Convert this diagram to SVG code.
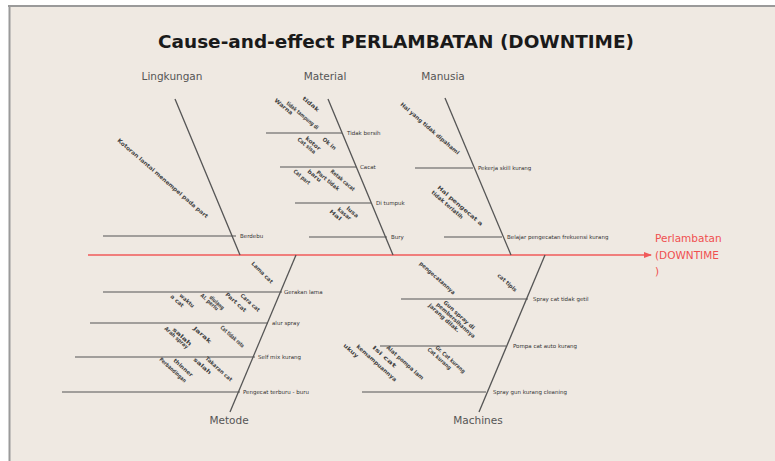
<svg xmlns="http://www.w3.org/2000/svg" width="775" height="461" viewBox="0 0 775 461">
<defs>
<style>
.bg{fill:#EFE9E2}
.bone{stroke:#555;stroke-width:1.3;fill:none}
.sub{stroke:#555;stroke-width:1.2;fill:none}
.spine{stroke:#F05A5A;stroke-width:1.6;fill:none}
.title{font-family:"DejaVu Sans",sans-serif;font-weight:bold;font-size:17px;fill:#1a1a1a}
.cat{font-family:"DejaVu Sans",sans-serif;font-size:10.5px;fill:#555}
.lbl{font-family:"DejaVu Sans",sans-serif;font-size:5.5px;fill:#333}
.rot{font-family:"DejaVu Sans",sans-serif;font-size:5.5px;fill:#444;font-weight:bold}
.eff{font-family:"DejaVu Sans",sans-serif;font-size:10.5px;fill:#F05050}
</style>
<marker id="ah" markerWidth="8" markerHeight="8" refX="7" refY="4" orient="auto" markerUnits="userSpaceOnUse">
<path d="M0,1 L8,4 L0,7 Z" fill="#F05A5A"/>
</marker>
</defs>
<rect x="0" y="0" width="775" height="461" fill="#ffffff"/>
<rect class="bg" x="9" y="6" width="766" height="455"/>
<line x1="8" y1="6" x2="775" y2="6" stroke="#9a9a9a" stroke-width="2"/>
<line x1="9.5" y1="6" x2="9.5" y2="461" stroke="#9a9a9a" stroke-width="2"/>

<text class="title" x="396" y="48" text-anchor="middle" textLength="476" lengthAdjust="spacingAndGlyphs">Cause-and-effect PERLAMBATAN (DOWNTIME)</text>

<g id="connectors">
<line class="spine" x1="88" y1="255" x2="651" y2="255" marker-end="url(#ah)"/>
<line class="bone" x1="175" y1="99" x2="240" y2="255"/>
<line class="bone" x1="328" y1="99" x2="393" y2="255"/>
<line class="bone" x1="445" y1="98" x2="511" y2="255"/>
<line class="bone" x1="296" y1="255" x2="230" y2="412"/>
<line class="bone" x1="545" y1="255" x2="479" y2="412"/>
</g>

<g id="effect">
<text class="eff" x="655" y="242">Perlambatan</text>
<text class="eff" x="655" y="259">(DOWNTIME</text>
<text class="eff" x="655" y="275">)</text>
</g>

<g id="lingkungan">
<text class="cat" x="172" y="80" text-anchor="middle">Lingkungan</text>
<line class="sub" x1="103" y1="236" x2="236" y2="236"/>
<text class="lbl" x="240" y="238">Berdebu</text>
<text class="rot" transform="translate(117,141) rotate(41)" textLength="118" lengthAdjust="spacingAndGlyphs">Kotoran lantai menempel pada part</text>
</g>

<g id="material">
<text class="cat" x="325" y="80" text-anchor="middle">Material</text>
<line class="sub" x1="266" y1="133" x2="342" y2="133"/>
<text class="lbl" x="347" y="135">Tidak bersih</text>
<line class="sub" x1="280" y1="167" x2="356" y2="167"/>
<text class="lbl" x="360" y="169">Cacat</text>
<line class="sub" x1="295" y1="203" x2="371" y2="203"/>
<text class="lbl" x="376" y="205">Di tumpuk</text>
<line class="sub" x1="309" y1="237" x2="387" y2="237"/>
<text class="lbl" x="391" y="239">Bury</text>
<text class="rot" transform="translate(274,101) rotate(40)" textLength="22" lengthAdjust="spacingAndGlyphs">Warna</text>
<text class="rot" transform="translate(286,104) rotate(40)" textLength="40" lengthAdjust="spacingAndGlyphs">tidak tampung di</text>
<text class="rot" transform="translate(302,99) rotate(40)" textLength="20" lengthAdjust="spacingAndGlyphs">tidak</text>
<text class="rot" transform="translate(297,140) rotate(40)" textLength="22" lengthAdjust="spacingAndGlyphs">Cat sisa</text>
<text class="rot" transform="translate(305,139) rotate(40)" textLength="18" lengthAdjust="spacingAndGlyphs">kotor</text>
<text class="rot" transform="translate(322,140) rotate(40)" textLength="16" lengthAdjust="spacingAndGlyphs">Ok in</text>
<text class="rot" transform="translate(293,172) rotate(40)" textLength="20" lengthAdjust="spacingAndGlyphs">Cat part</text>
<text class="rot" transform="translate(307,172) rotate(40)" textLength="16" lengthAdjust="spacingAndGlyphs">baru</text>
<text class="rot" transform="translate(316,173) rotate(40)" textLength="28" lengthAdjust="spacingAndGlyphs">Part tidak</text>
<text class="rot" transform="translate(330,172) rotate(40)" textLength="30" lengthAdjust="spacingAndGlyphs">Retak cacat</text>
<text class="rot" transform="translate(329,212) rotate(40)" textLength="14" lengthAdjust="spacingAndGlyphs">Hal</text>
<text class="rot" transform="translate(337,210) rotate(40)" textLength="16" lengthAdjust="spacingAndGlyphs">kasar</text>
<text class="rot" transform="translate(346,209) rotate(40)" textLength="14" lengthAdjust="spacingAndGlyphs">lusa</text>
</g>

<g id="manusia">
<text class="cat" x="443" y="80" text-anchor="middle">Manusia</text>
<line class="sub" x1="415" y1="168" x2="473" y2="168"/>
<text class="lbl" x="478" y="170">Pekerja skill kurang</text>
<line class="sub" x1="444" y1="237" x2="502" y2="237"/>
<text class="lbl" x="507" y="239">Belajar pengecatan frekuensi kurang</text>
<text class="rot" transform="translate(400,105) rotate(41)" textLength="76" lengthAdjust="spacingAndGlyphs">Hal yang tidak dipahami</text>
<text class="rot" transform="translate(437,188) rotate(41)" textLength="58" lengthAdjust="spacingAndGlyphs">Hal pengecat a</text>
<text class="rot" transform="translate(431,193) rotate(41)" textLength="40" lengthAdjust="spacingAndGlyphs">tidak terlatih</text>
</g>

<g id="metode">
<text class="cat" x="229" y="424" text-anchor="middle">Metode</text>
<line class="sub" x1="103" y1="292" x2="282" y2="292"/>
<text class="lbl" x="284" y="294">Gerakan lama</text>
<line class="sub" x1="90" y1="323" x2="268" y2="323"/>
<text class="lbl" x="272" y="325">alur spray</text>
<line class="sub" x1="75" y1="357" x2="255" y2="357"/>
<text class="lbl" x="258" y="359">Self mix kurang</text>
<line class="sub" x1="62" y1="392" x2="240" y2="392"/>
<text class="lbl" x="243" y="394">Pengecat terburu - buru</text>
<text class="rot" transform="translate(251,264) rotate(45)" textLength="28" lengthAdjust="spacingAndGlyphs">Lama cat</text>
<text class="rot" transform="translate(170,297) rotate(42)" textLength="16" lengthAdjust="spacingAndGlyphs">a cat</text>
<text class="rot" transform="translate(179,296) rotate(42)" textLength="18" lengthAdjust="spacingAndGlyphs">waktu</text>
<text class="rot" transform="translate(200,296) rotate(42)" textLength="22" lengthAdjust="spacingAndGlyphs">Al. perlu</text>
<text class="rot" transform="translate(209,298) rotate(42)" textLength="18" lengthAdjust="spacingAndGlyphs">diulang</text>
<text class="rot" transform="translate(225,295) rotate(42)" textLength="26" lengthAdjust="spacingAndGlyphs">Part cat</text>
<text class="rot" transform="translate(240,296) rotate(42)" textLength="24" lengthAdjust="spacingAndGlyphs">Cara cat</text>
<text class="rot" transform="translate(164,329) rotate(42)" textLength="30" lengthAdjust="spacingAndGlyphs">Arah spray</text>
<text class="rot" transform="translate(172,330) rotate(42)" textLength="24" lengthAdjust="spacingAndGlyphs">salah</text>
<text class="rot" transform="translate(193,329) rotate(42)" textLength="22" lengthAdjust="spacingAndGlyphs">Jarak</text>
<text class="rot" transform="translate(220,328) rotate(42)" textLength="30" lengthAdjust="spacingAndGlyphs">Cat tidak rata</text>
<text class="rot" transform="translate(159,360) rotate(42)" textLength="34" lengthAdjust="spacingAndGlyphs">Perbandingan</text>
<text class="rot" transform="translate(173,361) rotate(42)" textLength="24" lengthAdjust="spacingAndGlyphs">thinner</text>
<text class="rot" transform="translate(193,360) rotate(42)" textLength="22" lengthAdjust="spacingAndGlyphs">salah</text>
<text class="rot" transform="translate(205,359) rotate(42)" textLength="34" lengthAdjust="spacingAndGlyphs">Takaran cat</text>
</g>

<g id="machines">
<text class="cat" x="478" y="424" text-anchor="middle">Machines</text>
<line class="sub" x1="401" y1="299" x2="528" y2="299"/>
<text class="lbl" x="533" y="301">Spray cat tidak getil</text>
<line class="sub" x1="380" y1="346" x2="506" y2="346"/>
<text class="lbl" x="513" y="348">Pompa cat auto kurang</text>
<line class="sub" x1="362" y1="392" x2="486" y2="392"/>
<text class="lbl" x="493" y="394">Spray gun kurang cleaning</text>
<text class="rot" transform="translate(419,264) rotate(42)" textLength="46" lengthAdjust="spacingAndGlyphs">pengecatannya</text>
<text class="rot" transform="translate(497,276) rotate(42)" textLength="24" lengthAdjust="spacingAndGlyphs">cat tipis</text>
<text class="rot" transform="translate(443,303) rotate(42)" textLength="40" lengthAdjust="spacingAndGlyphs">Gun spray di</text>
<text class="rot" transform="translate(436,305) rotate(42)" textLength="50" lengthAdjust="spacingAndGlyphs">pembersihannya</text>
<text class="rot" transform="translate(428,306) rotate(42)" textLength="40" lengthAdjust="spacingAndGlyphs">jarang dilak.</text>
<text class="rot" transform="translate(343,346) rotate(42)" textLength="18" lengthAdjust="spacingAndGlyphs">ukuy</text>
<text class="rot" transform="translate(356,347) rotate(42)" textLength="52" lengthAdjust="spacingAndGlyphs">kemampuannya</text>
<text class="rot" transform="translate(372,348) rotate(42)" textLength="30" lengthAdjust="spacingAndGlyphs">Isi cat</text>
<text class="rot" transform="translate(386,348) rotate(42)" textLength="48" lengthAdjust="spacingAndGlyphs">Alat pompa lam</text>
<text class="rot" transform="translate(427,350) rotate(42)" textLength="30" lengthAdjust="spacingAndGlyphs">Cat kurang</text>
<text class="rot" transform="translate(435,348) rotate(42)" textLength="38" lengthAdjust="spacingAndGlyphs">Gr. Cat kurang</text>
</g>
</svg>
